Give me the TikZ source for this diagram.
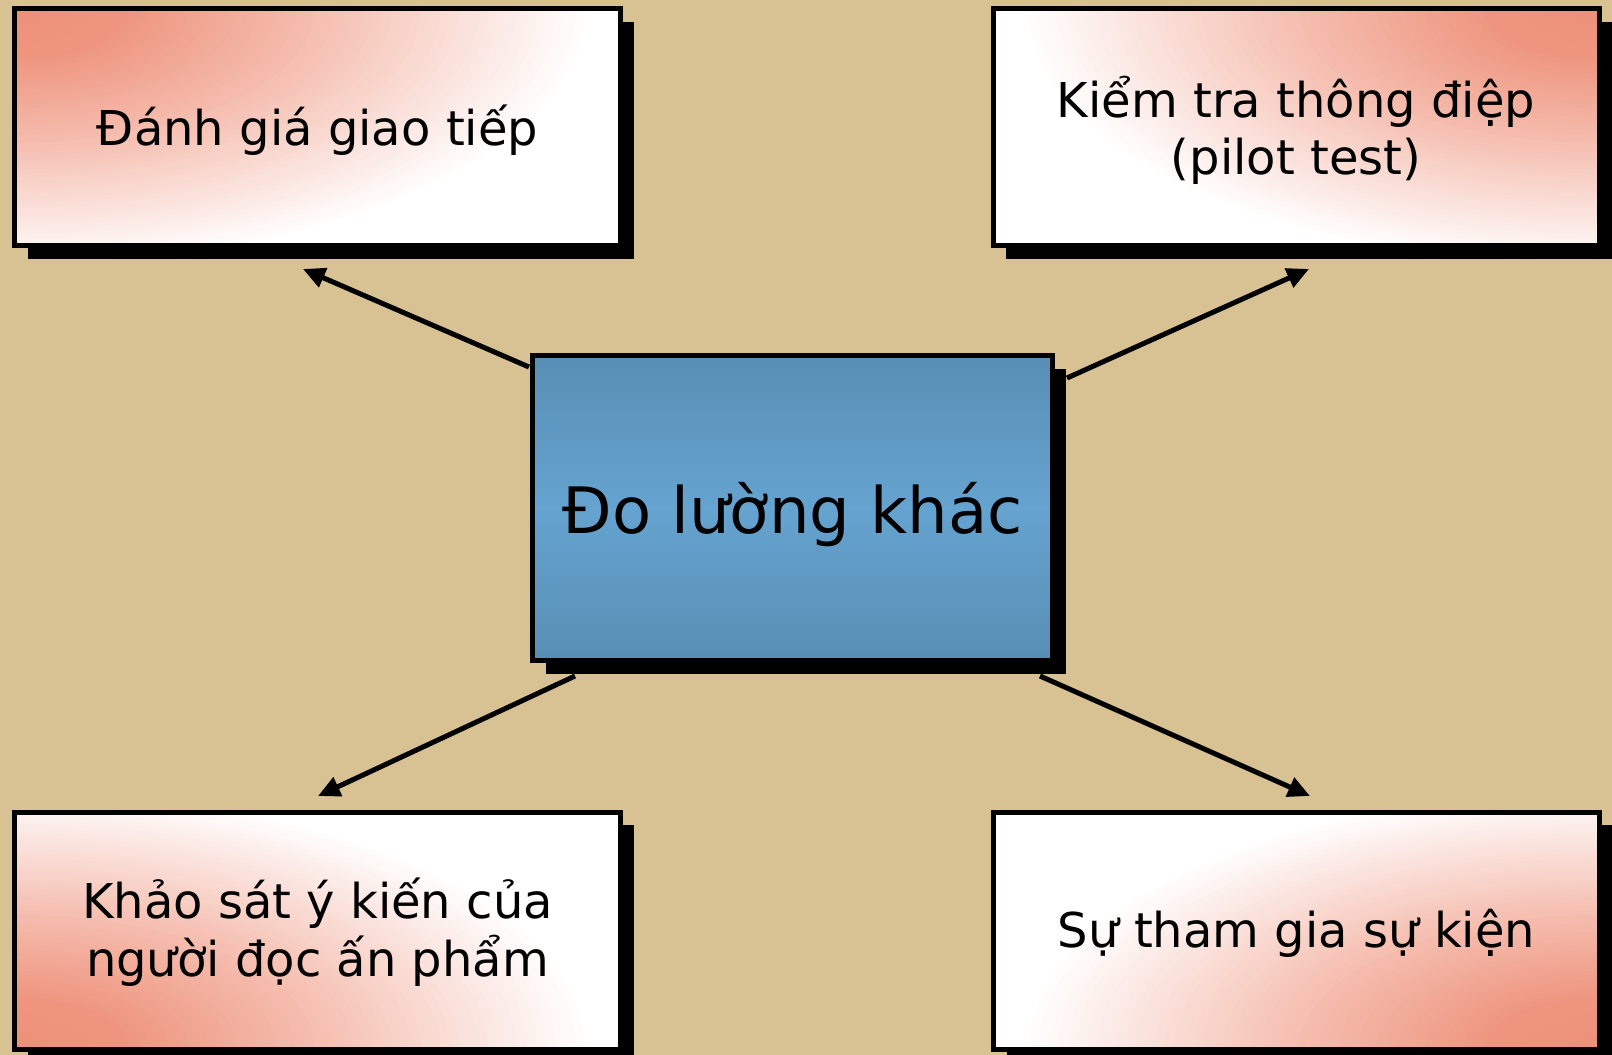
\documentclass[tikz,border=0pt]{standalone}
\usepackage{fontspec}
\setmainfont{DejaVu Sans}
\usetikzlibrary{arrows.meta,shadows}

\definecolor{paper}{RGB}{216,193,146}
\definecolor{salmon}{RGB}{238,144,120}
\definecolor{steeledge}{RGB}{88,142,180}
\definecolor{steelmid}{RGB}{101,163,208}

\newcommand{\lowered}[2]{\raisebox{-#1}[\height][\depth]{#2}}

\begin{document}
\begin{tikzpicture}[x=0.5pt,y=-0.5pt,
  boxshadow/.style={drop shadow={fill=black,opacity=1,shadow xshift=6.5pt,shadow yshift=-6.5pt}},
  card/.style={draw=black,fill=white,line width=2.5pt,minimum width=303pt,minimum height=118.5pt,
    inner sep=0pt,align=center,font=\fontsize{24}{28.5}\selectfont,boxshadow},
  % salmon glow spreading from one corner, built from nested ellipses
  glow/.style={path picture={
    \foreach \k in {60,59,...,1}{
      \pgfmathsetmacro{\t}{\k/60}
      \pgfmathsetmacro{\p}{\t<0.2 ? 100-25*\t : (\t<0.56 ? 95-111*(\t-0.2) : 55-125*(\t-0.56))}
      \fill[salmon!\p!white] (path picture bounding box.#1)
        ellipse [x radius=\t*290pt, y radius=\t*130pt];
    }}},
  hubbox/.style={draw=black,line width=2.5pt,minimum width=260pt,minimum height=152.5pt,
    inner sep=0pt,font=\fontsize{32}{38}\selectfont,boxshadow,
    top color=steeledge,bottom color=steeledge,middle color=steelmid},
  link/.style={line width=2.5pt,-{Triangle[length=11pt,width=10pt]}}
]
% backdrop
\fill[paper] (0,0) rectangle (1612,1055);
\useasboundingbox (0,0) rectangle (1612,1055);

% connector end points
\coordinate (s1) at (529,367);
\coordinate (e1) at (303,269);
\coordinate (s2) at (1067,378);
\coordinate (e2) at (1309,269);
\coordinate (s3) at (575,676);
\coordinate (e3) at (318,796);
\coordinate (s4) at (1040,676);
\coordinate (e4) at (1310,796);

% connectors
\draw[link] (s1) -- (e1);
\draw[link] (s2) -- (e2);
\draw[link] (s3) -- (e3);
\draw[link] (s4) -- (e4);

% outer cards
\node[card,glow=north west] (tl) at (317.5,127) {\lowered{1.5pt}{Đánh giá giao tiếp}};
\node[card,glow=north east] (tr) at (1296,127)
  {\lowered{3.5pt}{\begin{tabular}{@{}c@{}}Kiểm tra thông điệp\\(pilot test)\end{tabular}}};
\node[card,glow=south west] (bl) at (317.5,930.5)
  {\lowered{2.5pt}{\begin{tabular}{@{}c@{}}Khảo sát ý kiến của\\người đọc ấn phẩm\end{tabular}}};
\node[card,glow=south east] (br) at (1296.5,930.5) {\lowered{1.5pt}{Sự tham gia sự kiện}};

% central box
\node[hubbox] (hub) at (792.5,508) {\lowered{3.5pt}{Đo lường khác}};
\end{tikzpicture}
\end{document}
